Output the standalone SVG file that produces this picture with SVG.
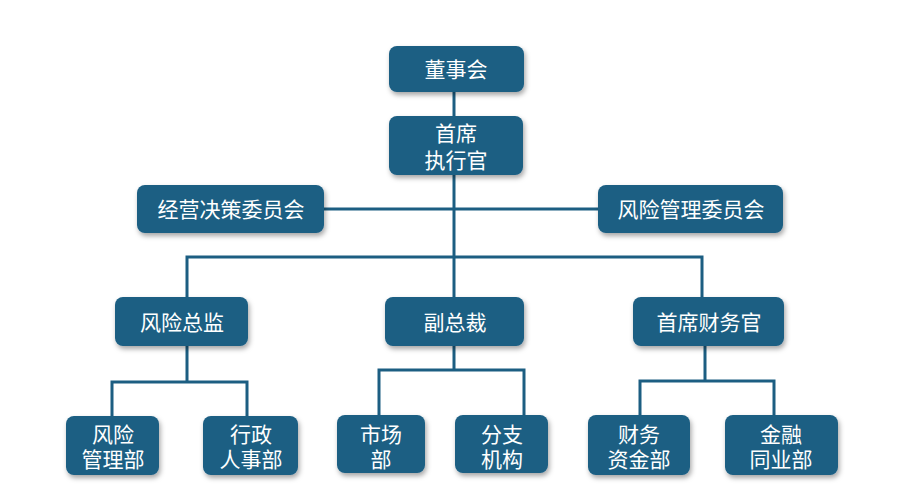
<svg xmlns="http://www.w3.org/2000/svg" width="900" height="496" viewBox="0 0 900 496">
<defs>
<filter id="sh" x="-20%" y="-20%" width="140%" height="160%">
<feDropShadow dx="1.5" dy="3" stdDeviation="2.5" flood-color="#000" flood-opacity="0.35"/>
</filter>
</defs>
<style>
.box{fill:#1b5e83;filter:url(#sh)}
.t{fill:#fff;font-family:"Liberation Sans","Noto Sans CJK SC",sans-serif;font-size:21px;text-anchor:middle;dominant-baseline:central}
.c{fill:none;stroke:#1c5e82;stroke-width:3}
</style>
<rect width="900" height="496" fill="#fff"/>
<g id="connectors">
<path class="c" d="M454 92V257"/>
<path class="c" d="M324 209H598"/>
<path class="c" d="M187 297V257H702V297"/>
<path class="c" d="M454 257V297"/>
<path class="c" d="M187 346V382M112 416V382H247V416"/>
<path class="c" d="M454 346V370M379 415V370H524V415"/>
<path class="c" d="M705 346V381M640 415V381H774V415"/>
</g>
<g id="n1"><rect class="box" x="389" y="46" width="135" height="46" rx="8"/><text class="t" x="456" y="69">董事会</text></g>
<g id="n2"><rect class="box" x="389" y="116" width="134" height="59" rx="8"/><text class="t" x="456" y="133"><tspan x="456">首席</tspan><tspan x="456" dy="27">执行官</tspan></text></g>
<g id="n3"><rect class="box" x="137" y="185" width="187" height="48" rx="8"/><text class="t" x="231" y="209">经营决策委员会</text></g>
<g id="n4"><rect class="box" x="598" y="185" width="185" height="48" rx="8"/><text class="t" x="691" y="209">风险管理委员会</text></g>
<g id="n5"><rect class="box" x="115" y="297" width="133" height="49" rx="8"/><text class="t" x="182" y="322">风险总监</text></g>
<g id="n6"><rect class="box" x="385" y="297" width="139" height="49" rx="8"/><text class="t" x="455" y="322">副总裁</text></g>
<g id="n7"><rect class="box" x="633" y="297" width="151" height="49" rx="8"/><text class="t" x="709" y="322">首席财务官</text></g>
<g id="n8"><rect class="box" x="66" y="416" width="93" height="59" rx="8"/><text class="t" x="113" y="434"><tspan x="113">风险</tspan><tspan x="113" dy="25">管理部</tspan></text></g>
<g id="n9"><rect class="box" x="203" y="416" width="95" height="59" rx="8"/><text class="t" x="251" y="434"><tspan x="251">行政</tspan><tspan x="251" dy="25">人事部</tspan></text></g>
<g id="n10"><rect class="box" x="337" y="415" width="88" height="58" rx="8"/><text class="t" x="381" y="434"><tspan x="381">市场</tspan><tspan x="381" dy="25">部</tspan></text></g>
<g id="n11"><rect class="box" x="455" y="415" width="93" height="58" rx="8"/><text class="t" x="502" y="434"><tspan x="502">分支</tspan><tspan x="502" dy="25">机构</tspan></text></g>
<g id="n12"><rect class="box" x="588" y="415" width="102" height="60" rx="8"/><text class="t" x="639" y="434"><tspan x="639">财务</tspan><tspan x="639" dy="25">资金部</tspan></text></g>
<g id="n13"><rect class="box" x="725" y="415" width="113" height="60" rx="8"/><text class="t" x="781" y="434"><tspan x="781">金融</tspan><tspan x="781" dy="25">同业部</tspan></text></g>
</svg>
